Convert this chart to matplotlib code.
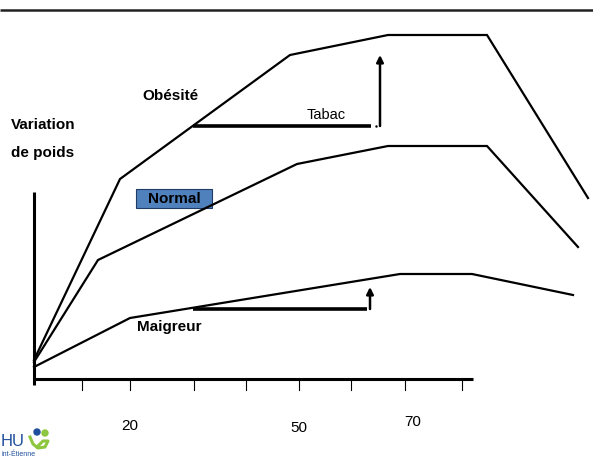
import matplotlib.pyplot as plt
from matplotlib.patches import Rectangle, Circle

# schematic, coordinates in image pixels (y grows downwards)
obesite_x = [34, 120, 290, 388, 487, 588]
obesite_y = [360, 179, 55, 35, 35, 198]
normal_x = [34, 98, 297, 388, 487, 578]
normal_y = [362, 260, 164, 146, 146, 247]
maigreur_x = [34, 130, 400, 472, 573]
maigreur_y = [367, 318, 274, 274, 295]

tick_x = [34, 82, 130, 194, 246, 299, 351, 405, 462]
age_labels = ["20", "50", "70"]
age_label_x = [130, 299, 413]
age_label_y = [426, 428, 422]

# tabac: horizontal shift then arrow up
tabac_bar = (193, 371, 126)
tabac_arrow = (380, 126, 55)
maig_bar = (193, 367, 309)
maig_arrow = (370, 309, 287)

fig = plt.figure(figsize=(5.93, 4.59), dpi=100)
ax = fig.add_axes([0, 0, 1, 1])
ax.set_xlim(0, 593)
ax.set_ylim(459, 0)
ax.axis('off')

font = ['Liberation Sans', 'DejaVu Sans']

# top rule
ax.plot([0, 593], [10, 10], color='#222222', lw=1.8, solid_capstyle='butt')

# axes
ax.plot([34, 34], [192, 385], color='black', lw=2.2, solid_capstyle='butt')
ax.plot([33, 473], [379, 379], color='black', lw=2.2, solid_capstyle='butt')
for tx in tick_x[1:]:
    ax.plot([tx, tx], [379, 390], color='black', lw=0.8)

for lab, lx, ly in zip(age_labels, age_label_x, age_label_y):
    ax.text(lx, ly, lab, ha='center', va='center', fontsize=11, family=font)

# curves
for xs, ys in [(obesite_x, obesite_y), (normal_x, normal_y), (maigreur_x, maigreur_y)]:
    ax.plot(xs, ys, color='black', lw=1.6, solid_joinstyle='miter')

# bars + arrows
for (x0, x1, y) in [tabac_bar, maig_bar]:
    ax.plot([x0, x1], [y, y], color='black', lw=2.6, solid_capstyle='butt')
for (x, y0, y1) in [tabac_arrow, maig_arrow]:
    ax.annotate('', xy=(x, y1), xytext=(x, y0),
                arrowprops=dict(arrowstyle='-|>', color='black', lw=1.8,
                                mutation_scale=10, shrinkA=0, shrinkB=0))
ax.plot([376], [126], marker='.', color='black', ms=1.5)

ax.text(326, 115, "Tabac", ha='center', va='center', fontsize=10.5, family=font)

# labels
ax.text(170, 96, "Obésité", ha='center', va='center', fontsize=11, fontweight='bold', family=font)
ax.text(11, 125, "Variation", ha='left', va='center', fontsize=11, fontweight='bold', family=font)
ax.text(11, 153, "de poids", ha='left', va='center', fontsize=11, fontweight='bold', family=font)
ax.text(137, 327, "Maigreur", ha='left', va='center', fontsize=11, fontweight='bold', family=font)

ax.add_patch(Rectangle((136, 189), 76, 19, facecolor='#4f81bd', edgecolor='#1f3b66', lw=0.8))
ax.text(174, 199, "Normal", ha='center', va='center', fontsize=11, fontweight='bold', family=font)

# logo
ax.text(1, 442, "HU", ha='left', va='center', fontsize=12, color='#1f4e9c', family=font)
ax.text(1, 454, "int-Étienne", ha='left', va='center', fontsize=5, color='#1f4e9c', family=font)
ax.add_patch(Circle((37, 432), 3, color='#1f4e9c'))
ax.add_patch(Circle((45, 433), 3, color='#8dc63f'))
ax.plot([30, 33, 38, 45, 48, 43, 37], [437, 444, 448, 447, 441, 441, 447], color='#8dc63f', lw=2.2)

fig.savefig('out.png', dpi=100)
